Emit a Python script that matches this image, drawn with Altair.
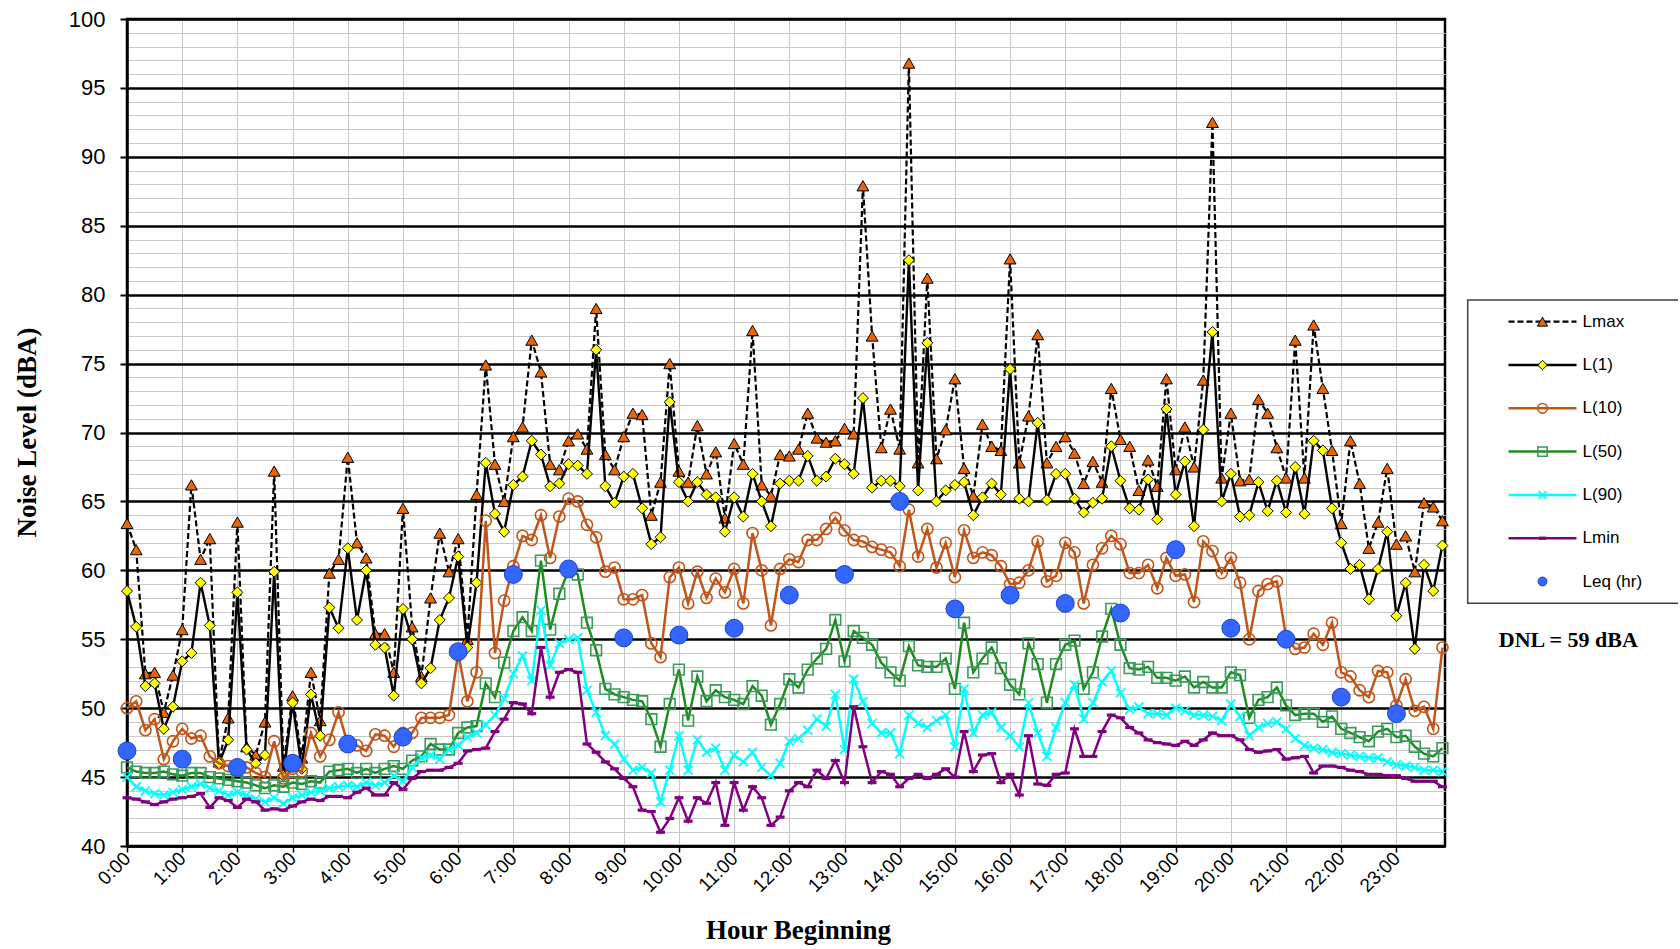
import json
import altair as alt
import pandas as pd

# ---------------- data (10-minute intervals, 144 per series) ----------------
lmax = [63.4, 61.5, 52.5, 52.6, 49.7, 52.4, 55.7, 66.2, 60.8, 62.3, 46.1, 49.3,
        63.5, 47.2, 46.6, 49.0, 67.2, 45.8, 50.9, 46.4, 52.6, 49.1, 59.8, 60.8,
        68.2, 62.0, 60.9, 55.4, 55.4, 52.6, 64.5, 55.9, 52.3, 58.0, 62.7, 59.9,
        62.3, 55.0, 65.5, 74.9, 67.7, 65.0, 69.7, 70.4, 76.7, 74.4, 67.7, 67.3,
        69.4, 69.9, 68.8, 79.0, 68.4, 67.3, 69.7, 71.4, 71.3, 64.0, 66.4, 75.0,
        67.2, 66.4, 70.5, 67.0, 68.6, 63.8, 69.2, 67.7, 77.4, 66.2, 65.4, 68.4,
        68.3, 68.8, 71.4, 69.6, 69.3, 69.4, 70.3, 69.9, 87.9, 77.0, 68.9, 71.7,
        68.8, 96.8, 67.8, 81.2, 68.1, 70.2, 73.9, 67.4, 65.4, 70.6, 69.0, 68.7,
        82.6, 67.8, 71.2, 77.1, 67.8, 69.0, 69.7, 68.5, 66.3, 67.9, 66.4, 73.2,
        69.5, 69.0, 65.8, 68.0, 66.1, 73.9, 67.3, 70.4, 67.5, 73.8, 92.5, 66.7,
        71.4, 66.5, 66.6, 72.4, 71.4, 68.9, 66.7, 76.7, 66.7, 77.8, 73.2, 68.7,
        63.4, 69.4, 66.3, 61.6, 63.5, 67.4, 61.9, 62.5, 59.9, 64.9, 64.6, 63.6]

l1 = [58.5, 55.9, 51.6, 51.8, 48.5, 50.1, 53.4, 54.0, 59.1, 56.0, 46.0, 47.7,
      58.4, 47.0, 46.0, 46.6, 59.9, 45.1, 50.4, 45.6, 51.0, 48.0, 57.3, 55.8,
      61.6, 56.4, 60.0, 54.6, 54.4, 50.9, 57.2, 55.0, 51.8, 52.9, 56.4, 58.0,
      61.0, 54.4, 59.1, 67.8, 64.1, 62.8, 66.2, 66.8, 69.4, 68.4, 66.1, 66.3,
      67.7, 67.6, 67.0, 76.0, 66.1, 64.9, 66.8, 67.0, 64.5, 61.9, 62.4, 72.2,
      66.4, 65.0, 66.4, 65.5, 65.3, 62.8, 65.3, 63.9, 67.0, 65.0, 63.2, 66.3,
      66.5, 66.5, 68.3, 66.5, 66.8, 68.1, 67.7, 67.0, 72.5, 66.0, 66.5, 66.5,
      66.1, 82.5, 65.8, 76.5, 65.0, 65.8, 66.2, 66.4, 64.0, 65.3, 66.3, 65.5,
      74.6, 65.2, 65.0, 70.7, 65.1, 67.0, 67.0, 65.2, 64.2, 64.9, 65.2, 69.0,
      66.5, 64.5, 64.4, 66.6, 63.7, 71.7, 65.5, 67.9, 63.2, 70.2, 77.3, 65.0,
      67.0, 63.9, 64.0, 66.4, 64.3, 66.5, 64.2, 67.5, 64.1, 69.4, 68.7, 64.5,
      62.0, 60.1, 60.4, 57.9, 60.1, 62.8, 56.7, 59.1, 54.3, 60.4, 58.5, 61.8]

l10 = [50.0, 50.5, 48.4, 49.2, 46.3, 47.6, 48.5, 47.8, 48.0, 46.5, 46.0, 45.8,
       45.7, 45.7, 45.3, 45.0, 47.6, 44.9, 45.6, 45.4, 48.2, 46.5, 47.7, 49.7,
       47.4, 47.3, 46.9, 48.1, 48.0, 47.2, 48.2, 48.2, 49.3, 49.3, 49.3, 49.5,
       54.0, 50.5, 52.6, 63.6, 54.0, 57.8, 60.3, 62.5, 62.2, 64.0, 60.9, 63.9,
       65.2, 65.0, 63.3, 62.4, 59.9, 60.2, 57.9, 57.9, 58.2, 54.7, 53.7, 59.5,
       60.2, 57.6, 59.9, 58.0, 59.4, 58.4, 60.1, 57.6, 62.7, 60.0, 56.0, 60.1,
       60.8, 60.6, 62.2, 62.2, 63.0, 63.8, 62.9, 62.2, 62.1, 61.7, 61.5, 61.3,
       60.3, 64.4, 61.0, 63.0, 60.2, 62.0, 59.5, 62.9, 60.9, 61.3, 61.1, 60.3,
       59.0, 59.1, 60.0, 62.1, 59.2, 59.6, 62.0, 61.3, 57.6, 60.4, 61.6, 62.5,
       61.9, 59.8, 59.8, 60.4, 58.7, 60.9, 59.6, 59.7, 57.7, 62.1, 61.4, 59.8,
       60.9, 59.1, 55.0, 58.5, 59.0, 59.2, 55.2, 54.3, 54.4, 55.4, 54.6, 56.2,
       52.6, 52.3, 51.3, 50.8, 52.7, 52.6, 50.2, 52.1, 49.8, 50.1, 48.5, 54.4]

l50 = [45.7, 45.4, 45.3, 45.3, 45.4, 45.2, 45.1, 45.3, 45.3, 45.0, 44.9, 44.8,
       44.7, 44.6, 44.4, 44.2, 44.4, 44.3, 44.6, 44.5, 44.7, 44.6, 45.4, 45.5,
       45.6, 45.3, 45.6, 45.3, 45.6, 45.8, 45.6, 46.2, 46.5, 47.4, 47.0, 47.0,
       48.2, 48.6, 48.7, 51.8, 50.8, 53.3, 55.6, 56.6, 55.6, 60.7, 55.7, 58.3,
       60.0, 59.7, 56.2, 54.2, 51.4, 51.0, 50.8, 50.6, 50.5, 49.2, 47.2, 50.3,
       52.8, 49.1, 52.3, 50.5, 51.3, 50.8, 50.6, 50.3, 51.6, 50.9, 48.8, 50.3,
       52.1, 51.5, 52.8, 53.6, 54.3, 56.4, 53.4, 55.6, 55.1, 54.6, 53.3, 52.6,
       52.0, 54.5, 53.1, 53.0, 53.0, 53.6, 51.4, 56.2, 52.6, 53.6, 54.4, 52.9,
       51.7, 51.0, 54.7, 53.2, 50.4, 53.2, 54.6, 54.9, 51.4, 52.6, 55.2, 57.2,
       54.6, 52.9, 52.8, 53.0, 52.2, 52.2, 52.0, 52.3, 51.5, 51.9, 51.5, 51.5,
       52.6, 52.4, 49.3, 50.6, 50.8, 51.5, 50.2, 49.5, 49.6, 49.6, 49.0, 49.4,
       48.5, 48.2, 47.9, 47.6, 48.3, 48.5, 47.9, 48.0, 47.2, 46.7, 46.5, 47.1]

l90 = [45.0, 44.3, 44.0, 43.8, 43.7, 43.9, 44.1, 44.3, 44.5, 44.2, 44.0, 43.7,
       43.9, 43.7, 43.4, 43.2, 43.5, 43.1, 43.5, 43.7, 43.9, 44.0, 44.2, 44.3,
       44.4, 44.3, 44.6, 44.4, 44.6, 45.1, 44.7, 45.7, 46.4, 46.6, 46.3, 47.0,
       47.3, 47.9, 48.2, 48.8, 49.5, 50.7, 52.5, 53.8, 52.0, 57.1, 53.1, 54.7,
       55.0, 55.1, 51.3, 49.7, 48.0, 47.4, 46.3, 45.5, 45.7, 45.3, 43.2, 45.5,
       48.0, 45.5, 47.7, 46.8, 47.1, 45.5, 46.6, 46.1, 46.8, 45.7, 45.1, 46.0,
       47.6, 47.8, 48.4, 49.2, 48.7, 51.0, 47.0, 52.1, 50.5, 48.9, 48.2, 48.2,
       46.7, 49.5, 48.9, 48.6, 49.1, 49.5, 47.2, 51.4, 48.2, 49.5, 49.7, 48.6,
       48.0, 47.2, 50.4, 48.2, 46.5, 48.6, 50.4, 51.7, 49.2, 50.4, 51.9, 52.7,
       51.1, 49.9, 50.1, 49.6, 49.6, 49.5, 50.0, 49.8, 49.5, 49.5, 49.4, 49.1,
       50.3, 49.4, 48.0, 48.6, 48.9, 49.0, 48.5, 47.8, 47.3, 47.1, 47.0, 46.8,
       46.7, 46.6, 46.5, 46.4, 46.4, 46.1, 45.9, 45.8, 45.7, 45.5, 45.5, 45.4]

lmin = [43.5, 43.4, 43.2, 43.0, 43.2, 43.4, 43.5, 43.6, 43.8, 42.8, 43.5, 43.3,
        42.8, 43.4, 43.2, 42.6, 42.7, 42.6, 42.9, 43.2, 43.4, 43.3, 43.6, 43.6,
        43.5, 43.9, 44.2, 43.7, 43.7, 44.6, 44.1, 44.9, 45.4, 45.5, 45.5, 45.7,
        46.0, 46.9, 47.0, 47.1, 48.3, 49.2, 50.4, 50.3, 49.6, 54.4, 50.8, 52.6,
        52.8, 52.6, 47.4, 46.8, 46.1, 45.6, 44.9, 44.3, 42.6, 42.5, 41.0, 42.0,
        43.5, 41.8, 43.5, 43.1, 44.6, 41.5, 44.6, 42.6, 44.3, 43.5, 41.5, 42.1,
        44.0, 44.6, 44.3, 45.5, 44.9, 46.2, 44.6, 50.1, 47.2, 44.6, 45.4, 45.2,
        44.3, 44.9, 45.2, 44.9, 45.2, 45.6, 45.0, 48.3, 45.4, 46.6, 46.7, 44.6,
        45.2, 43.7, 48.0, 44.5, 44.4, 45.2, 45.3, 48.5, 46.5, 46.5, 48.3, 49.5,
        49.3, 48.6, 48.2, 47.7, 47.5, 47.4, 47.3, 47.6, 47.3, 47.7, 48.2, 48.0,
        48.0, 47.7, 47.0, 46.8, 46.9, 47.0, 46.3, 46.4, 46.5, 45.3, 45.8, 45.8,
        45.7, 45.5, 45.4, 45.2, 45.2, 45.1, 45.1, 44.9, 44.7, 44.7, 44.7, 44.3]

leq = [46.9, 46.3, 45.7, 46.0, 47.4, 47.9, 54.1, 59.7, 60.1, 55.1, 55.3, 55.8,
       58.2, 59.7, 65.0, 57.2, 58.2, 57.6, 56.9, 61.5, 55.8, 55.0, 50.8, 49.6]

hour_labels = [f"{h}:00" for h in range(24)]
legend_names = ["Lmax", "L(1)", "L(10)", "L(50)", "L(90)", "Lmin", "Leq (hr)"]
dnl_text = "DNL = 59 dBA"

for s in (lmax, l1, l10, l50, l90, lmin):
    assert len(s) == 144

t10 = [i / 6 for i in range(144)]

# ---------------- layout constants ----------------
PW, PH = 1318, 827
PAD = {"left": 127, "top": 19, "right": 233, "bottom": 100}

xscale = alt.Scale(domain=[0, 23.88], nice=False, zero=False)
yscale = alt.Scale(domain=[40, 100], nice=False, zero=False)

major = "datum.value % 5 === 0"
x_axis = alt.Axis(
    values=list(range(24)),
    labelExpr=json.dumps(hour_labels) + "[datum.value]",
    labelAngle=315, labelAlign="right", labelBaseline="middle",
    labelFontSize=19, labelPadding=3, labelFlush=False, labelOverlap=False,
    tickSize=6, tickWidth=1.5, tickColor="black",
    grid=True, gridColor="#c8c8c8", gridWidth=1,
    domainColor="black", domainWidth=2.5,
    titleX=671, titleY=84, titleBaseline="middle",
)
y_axis = alt.Axis(
    values=list(range(40, 101)),
    labelExpr=f"{major} ? datum.label : ''",
    labelFontSize=22, labelPadding=15, labelOverlap=False, labelFlush=False,
    tickSize=7, tickWidth=2,
    tickColor={"condition": {"test": major, "value": "black"}, "value": "transparent"},
    grid=True,
    gridColor={"condition": {"test": major, "value": "black"}, "value": "#c8c8c8"},
    gridWidth={"condition": {"test": major, "value": 2.3}, "value": 1},
    domainColor="black", domainWidth=2.5,
    titleX=-100, titleY=413, titleBaseline="middle", titleAngle=270,
)

X = alt.X("t:Q", scale=xscale, axis=x_axis, title="Hour Beginning")
Y = alt.Y("v:Q", scale=yscale, axis=y_axis, title="Noise Level (dBA)")

styles = [
    (lmax, dict(color="black", strokeWidth=2.2, strokeDash=[6, 3]),
     dict(shape="triangle-up", filled=True, fill="#E8650A", stroke="black",
          strokeWidth=1, size=140, opacity=1)),
    (l1, dict(color="black", strokeWidth=2.4),
     dict(shape="diamond", filled=True, fill="#FFFF00", stroke="black",
          strokeWidth=1, size=120, opacity=1)),
    (l10, dict(color="#C0561A", strokeWidth=2.5),
     dict(shape="circle", filled=False, stroke="#C0561A", strokeWidth=1.6,
          size=125, opacity=1)),
    (l50, dict(color="#1E8C1E", strokeWidth=2.5),
     dict(shape="square", filled=False, stroke="#3A9A5C", strokeWidth=1.6,
          size=115, opacity=1)),
    (l90, dict(color="#00FFFF", strokeWidth=2.5),
     dict(shape="M-1,-1L1,1M-1,1L1,-1", filled=False, stroke="#00FFFF",
          strokeWidth=1.8, size=80, opacity=1)),
    (lmin, dict(color="#800080", strokeWidth=2.5),
     dict(shape="M-1,0L1,0", filled=False, stroke="#800080", strokeWidth=3.2,
          size=80, opacity=1)),
]
leq_style = dict(size=320, color="#3366FF", stroke="#1F3FC8", strokeWidth=1, opacity=1)

main_layers = []
for vals, lstyle, pstyle in styles:
    df = pd.DataFrame({"t": t10, "v": vals})
    main_layers.append(alt.Chart(df).mark_line(**lstyle).encode(x=X, y=Y))
    main_layers.append(alt.Chart(df).mark_point(**pstyle).encode(x=X, y=Y))
leq_df = pd.DataFrame({"t": list(range(24)), "v": leq})
main_layers.append(alt.Chart(leq_df).mark_circle(**leq_style).encode(x=X, y=Y))
main = alt.layer(*main_layers)

# ---------------- manual legend (own scales, placed right of the plot) ----------------
lxs = alt.Scale(domain=[0, 1], range=[1381.5, 1449.5])
lys = alt.Scale(domain=[0, 6], range=[302.7, 562.5])


def LX(f):
    return alt.X(f, type="quantitative", scale=lxs, axis=None)


def LY(f):
    return alt.Y(f, type="quantitative", scale=lys, axis=None)


box_df = pd.DataFrame({"x0": [-0.6], "x1": [2.7], "y0": [-0.5], "y1": [6.5]})
leg_layers = [
    alt.Chart(box_df).mark_rect(filled=False, color="#404040", strokeWidth=1.5).encode(
        x=LX("x0"), x2="x1", y=LY("y0"), y2="y1")
]
for row, (vals, lstyle, pstyle) in enumerate(styles):
    rdf = pd.DataFrame({"a": [0.0], "b": [1.0], "m": [0.5], "r": [row]})
    leg_layers.append(alt.Chart(rdf).mark_rule(**lstyle).encode(x=LX("a"), x2="b", y=LY("r")))
    leg_layers.append(alt.Chart(rdf).mark_point(**dict(pstyle, size=pstyle["size"] * 0.75)).encode(
        x=LX("m"), y=LY("r")))
leq_leg = pd.DataFrame({"m": [0.5], "r": [6]})
leg_layers.append(alt.Chart(leq_leg).mark_circle(**dict(leq_style, size=80)).encode(
    x=LX("m"), y=LY("r")))
txt_df = pd.DataFrame({"x": [1.09] * 7, "r": list(range(7)), "name": legend_names})
leg_layers.append(alt.Chart(txt_df).mark_text(
    align="left", baseline="middle", font="Liberation Sans", fontSize=17, color="black"
).encode(x=LX("x"), y=LY("r"), text="name:N"))
dnl_df = pd.DataFrame({"x": [0.88], "r": [7.35], "txt": [dnl_text]})
leg_layers.append(alt.Chart(dnl_df).mark_text(
    align="center", baseline="middle", font="Liberation Serif", fontWeight="bold",
    fontSize=22, color="black"
).encode(x=LX("x"), y=LY("r"), text="txt:N"))
legend = alt.layer(*leg_layers)

chart = alt.layer(main, legend).resolve_scale(x="independent", y="independent").properties(
    width=PW, height=PH,
    autosize=alt.AutoSizeParams(type="none"),
    padding=PAD,
    background="white",
).configure_view(stroke="black", strokeWidth=2.5).configure_axis(
    labelFont="Liberation Sans", labelColor="black",
    titleFont="Liberation Serif", titleFontWeight="bold", titleFontSize=27,
    titleColor="black",
)

chart.save("out.html", embed_options={"renderer": "svg", "actions": False})
